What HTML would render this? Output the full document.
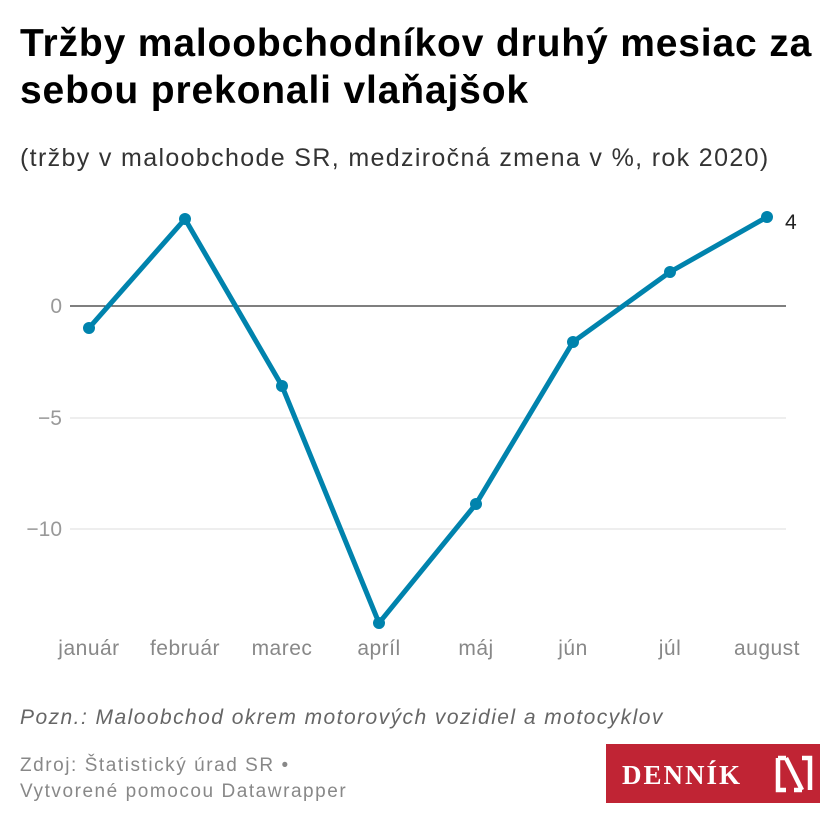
<!DOCTYPE html>
<html><head><meta charset="utf-8"><style>
body{margin:0;width:840px;height:840px;background:#fff;font-family:"Liberation Sans",sans-serif;position:relative;overflow:hidden}
.t{position:absolute;left:20px;top:20px;font-size:39px;font-weight:bold;line-height:47px;color:#000;letter-spacing:0.85px;white-space:nowrap}
.s{position:absolute;left:20px;top:144px;font-size:25px;color:#333;letter-spacing:1.35px;white-space:nowrap}
.n{position:absolute;left:20px;top:706px;font-size:21px;font-style:italic;color:#666;letter-spacing:1.45px;white-space:nowrap}
.z{position:absolute;left:20px;top:753px;font-size:19px;color:#888;line-height:26px;letter-spacing:1.55px;white-space:nowrap}
.logo{position:absolute;left:606px;top:744px;width:214px;height:59px;background:#c02434}
</style></head><body>
<div class="t">Tržby maloobchodníkov druhý mesiac za<br>sebou prekonali vlaňajšok</div>
<div class="s">(tržby v maloobchode SR, medziročná zmena v %, rok 2020)</div>
<svg width="840" height="700" style="position:absolute;left:0;top:0" font-family="Liberation Sans, sans-serif">
<line x1="70" x2="786" y1="418" y2="418" stroke="#ddd"/>
<line x1="70" x2="786" y1="529" y2="529" stroke="#ddd"/>
<line x1="70" x2="786" y1="306" y2="306" stroke="#333" stroke-width="1.3"/>
<g fill="#999" font-size="21" text-anchor="end">
<text x="62" y="313">0</text><text x="62" y="425">−5</text><text x="62" y="536">−10</text></g>
<g fill="#888" font-size="21" text-anchor="middle" letter-spacing="0.5">
<text x="89" y="655">január</text><text x="185" y="655">február</text><text x="282" y="655">marec</text><text x="379" y="655">apríl</text><text x="476" y="655">máj</text><text x="573" y="655">jún</text><text x="670" y="655">júl</text><text x="767" y="655">august</text></g>
<polyline fill="none" stroke="#0083ad" stroke-width="5" stroke-linejoin="round" points="89,328 185,219 282,386 379,623 476,504 573,342 670,272 767,217"/>
<g fill="#0083ad"><circle cx="89" cy="328" r="6"/><circle cx="185" cy="219" r="6"/><circle cx="282" cy="386" r="6"/><circle cx="379" cy="623" r="6"/><circle cx="476" cy="504" r="6"/><circle cx="573" cy="342" r="6"/><circle cx="670" cy="272" r="6"/><circle cx="767" cy="217" r="6"/></g>
<text x="785" y="229" font-size="21" fill="#222">4</text>
</svg>
<div class="n">Pozn.: Maloobchod okrem motorových vozidiel a motocyklov</div>
<div class="z">Zdroj: Štatistický úrad SR •<br>Vytvorené pomocou Datawrapper</div>
<div class="logo"><svg width="214" height="59">
<text x="16" y="40" font-family="Liberation Serif, serif" font-weight="bold" font-size="27" fill="#fff" letter-spacing="2">DENNÍK</text>
<path d="M172 14 h8 M172 14 v32 h8 M196 14 h8 v32 M196 46 h-8 M180 14 l16 32" fill="none" stroke="#fff" stroke-width="4.5"/>
</svg></div>
</body></html>
